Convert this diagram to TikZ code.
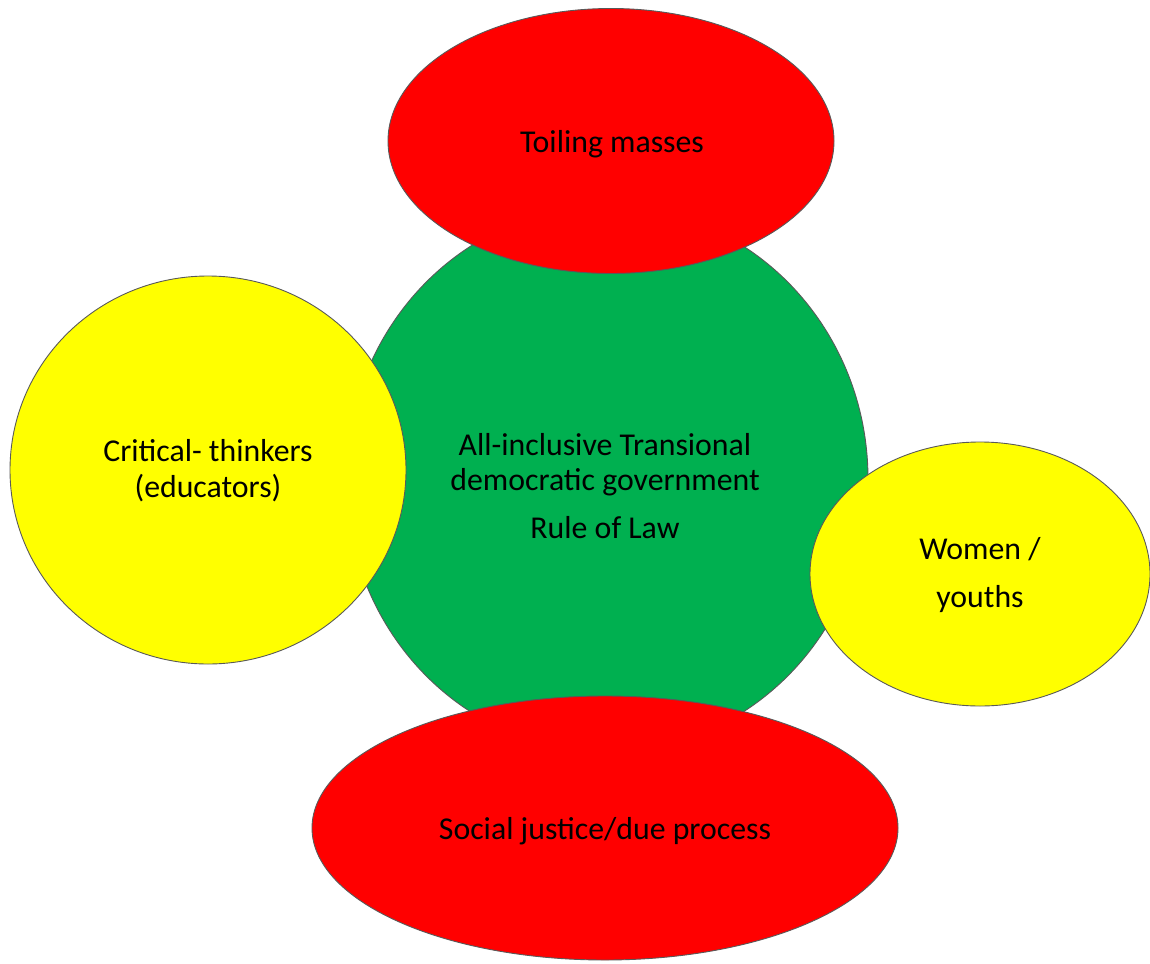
\documentclass[tikz,border=0pt]{standalone}
\usepackage{fontspec}
\setmainfont{Carlito}
\usetikzlibrary{shapes.geometric}
\definecolor{cred}{HTML}{FF0000}
\definecolor{cgreen}{HTML}{00B050}
\definecolor{cyellow}{HTML}{FFFF00}
\begin{document}
\begin{tikzpicture}[x=0.5pt,y=-0.5pt,
  blob/.style={ellipse, draw=black!65, line width=0.45pt, inner sep=0pt},
  lbl/.style={align=center, anchor=base, inner sep=0pt, text=black}]
\useasboundingbox (0,0) rectangle (1150,963);
% shapes
\node[blob, fill=cgreen, minimum width=261pt, minimum height=273pt] (gov) at (607,479) {};
\node[blob, fill=cyellow, minimum width=198pt, minimum height=194pt] (crit) at (208,470) {};
\node[blob, fill=cyellow, minimum width=170pt, minimum height=132pt] (women) at (980,574) {};
\node[blob, fill=cred, minimum width=223pt, minimum height=132.5pt] (toil) at (611,141) {};
\node[blob, fill=cred, minimum width=293pt, minimum height=132pt] (social) at (605,828) {};
% texts (anchor=base is the baseline of the last line)
\node[lbl, font=\fontsize{15.9}{18}\selectfont] (toiltxt) at (612,152) {Toiling masses};
\node[lbl, font=\fontsize{15.9}{17.5}\selectfont] (govtxt) at (605,538) {All-inclusive Transional\\democratic government\\[6.5pt]Rule of Law};
\node[lbl, font=\fontsize{15.9}{18}\selectfont] (crittxt) at (208,497) {Critical- thinkers\\(educators)};
\node[lbl, font=\fontsize{15.9}{24}\selectfont] (womentxt) at (980,607) {Women /\\youths};
\node[lbl, font=\fontsize{15.9}{18}\selectfont] (socialtxt) at (605,839) {Social justice/due process};
\end{tikzpicture}
\end{document}
